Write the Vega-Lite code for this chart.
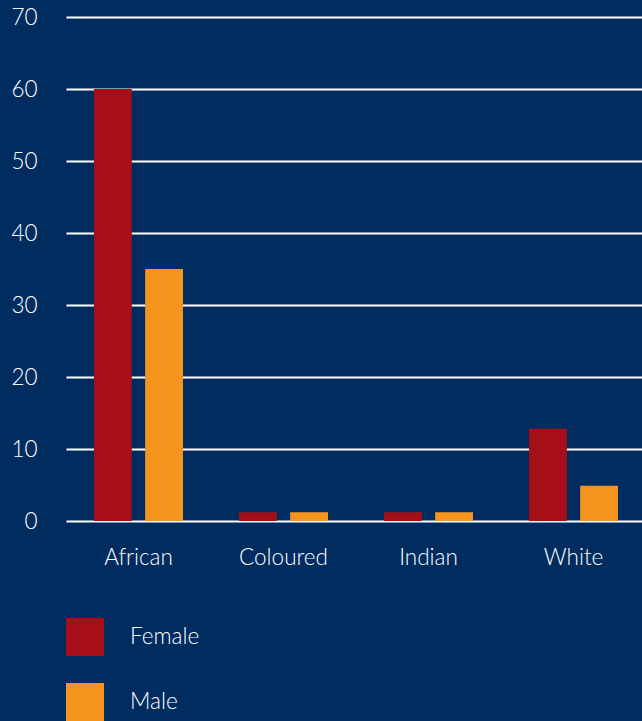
{
  "$schema": "https://vega.github.io/schema/vega-lite/v6.json",
  "width": 580,
  "height": 504,
  "autosize": {"type": "none"},
  "padding": {"left": 66, "top": 17, "right": -4, "bottom": 200},
  "background": "#002C60",
  "config": {
    "view": {"stroke": null},
    "font": "Lato",
    "axis": {"labelFont": "Lato", "labelFontWeight": 300, "labelColor": "#FFFFFF", "labelFontSize": 22.5}
  },
  "data": {
    "values": [
      {"group": "African", "sex": "Female", "value": 60},
      {"group": "African", "sex": "Male", "value": 35},
      {"group": "Coloured", "sex": "Female", "value": 1.2},
      {"group": "Coloured", "sex": "Male", "value": 1.2},
      {"group": "Indian", "sex": "Female", "value": 1.2},
      {"group": "Indian", "sex": "Male", "value": 1.2},
      {"group": "White", "sex": "Female", "value": 12.8},
      {"group": "White", "sex": "Male", "value": 4.9}
    ]
  },
  "mark": {"type": "bar"},
  "encoding": {
    "x": {
      "field": "group", "type": "nominal", "sort": null,
      "scale": {"paddingInner": 0.386, "paddingOuter": 0.193},
      "axis": {"title": null, "labelAngle": 0, "domain": false, "ticks": false, "labelPadding": 25, "grid": false}
    },
    "xOffset": {
      "field": "sex", "type": "nominal",
      "scale": {"paddingInner": 0.26, "paddingOuter": 0}
    },
    "y": {
      "field": "value", "type": "quantitative",
      "scale": {"domain": [0, 70]},
      "axis": {"title": null, "values": [0,10,20,30,40,50,60,70], "labelOverlap": false, "domain": false, "ticks": false, "labelPadding": 29, "grid": true, "gridColor": "#FFFFFF", "gridWidth": 2, "gridOpacity": 1}
    },
    "color": {
      "field": "sex", "type": "nominal",
      "scale": {"domain": ["Female", "Male"], "range": ["#A60F18", "#F7941E"]},
      "legend": {
        "title": null, "orient": "none", "legendX": 0, "legendY": 601,
        "padding": 0, "symbolType": "square", "symbolSize": 1444, "symbolStrokeWidth": 0,
        "symbolOpacity": 1, "rowPadding": 27, "labelOffset": 26,
        "labelFont": "Lato", "labelFontWeight": 300, "labelFontSize": 22.5, "labelColor": "#FFFFFF"
      }
    }
  }
}
